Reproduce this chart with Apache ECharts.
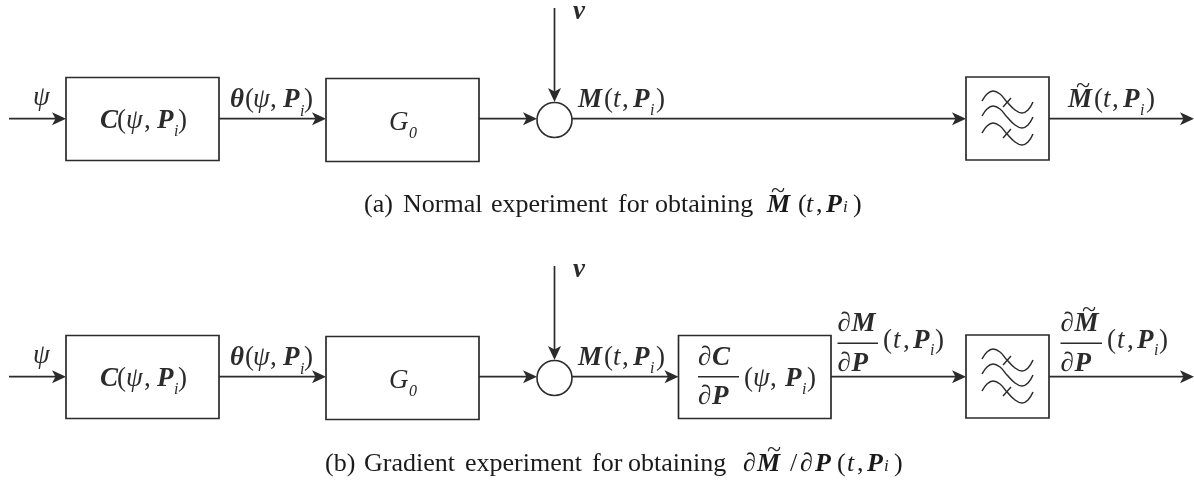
<!DOCTYPE html>
<html>
<head>
<meta charset="utf-8">
<title>Experiments</title>
<style>
html, body { margin: 0; padding: 0; background: #fff; }
#chart { width: 1194px; height: 482px; }
</style>
<script src="https://cdn.jsdelivr.net/npm/echarts@6/dist/echarts.min.js"></script>
</head>
<body>
<div id="chart"></div>
<script>
var serif = '"Liberation Serif", serif';
var ink = '#2b2b2b';

// boxes: x0, y0, x1, y1
var boxes = [
    [66, 77.5, 219, 160.5], [326, 78.5, 479, 161.5],
    [66, 335.5, 219, 418.5], [326, 336.5, 479, 419.5], [678.5, 335.5, 831, 418.5]
];
var filterBoxes = [[966, 77, 1049, 160], [966, 335, 1049, 418]];

// wires: x0, y0, x1, y1, arrow head at the end (1) or not (0)
var wires = [
    [9, 118.7, 66, 118.7, 1], [219, 118.7, 326, 118.7, 1], [479, 118.7, 537, 118.7, 1],
    [554.5, 8, 554.5, 102, 1], [572, 118.7, 966, 118.7, 1], [1049, 118.7, 1194, 118.7, 1],
    [9, 376.7, 66, 376.7, 1], [219, 376.7, 326, 376.7, 1], [479, 376.7, 537, 376.7, 1],
    [554.5, 266, 554.5, 360, 1], [572, 376.7, 678.5, 376.7, 1], [831, 376.7, 966, 376.7, 1],
    [1049, 376.7, 1194, 376.7, 1]
];
var junctions = [[554.5, 120, 17.5], [554.5, 378, 17.5]];

// fraction bars: x0, x1, y
var fractionBars = [[698, 739, 376.7], [837.5, 878, 343.3], [1060.5, 1102, 343.3]];

// filter glyph, offsets from the top left corner of its box
var waveShape = [[16, 24], [21, 17], [27, 14], [34, 17], [41, 25], [49, 33], [56, 36], [62, 33], [67, 25]];
var waveOffsets = [0, 15, 32];
var filterTicks = [[37, 30, 45, 21], [37, 61, 45, 52]];

// label groups: dx, dy from the baseline origin, text, style
var cLabel = [[0, 0, 'C', 'bi'], [17, 0, '(', 'ro'], [26, 0, 'ψ', 'it'], [44, 0, ',', 'ro'], [57, 0, 'P', 'bi'], [74, 8, 'i', 'sub'], [78, 0, ')', 'ro']];
var thetaLabel = [[0, 0, 'θ', 'bi'], [15, 0, '(', 'ro'], [23, 0, 'ψ', 'it'], [40, 0, ',', 'ro'], [53, 0, 'P', 'bi'], [70, 9, 'i', 'sub'], [74, 0, ')', 'ro']];
var mLabel = [[0, 0, 'M', 'bi'], [26, 0, '(', 'ro'], [35, 0, 't', 'it'], [44, 0, ',', 'ro'], [55, 0, 'P', 'bi'], [72, 8, 'i', 'sub'], [78, 0, ')', 'ro']];
var tpLabel = [[0, 0, '(', 'ro'], [10, 0, 't', 'it'], [20, 0, ',', 'ro'], [30, 0, 'P', 'bi'], [47, 7, 'i', 'sub'], [52, 0, ')', 'ro']];
var psiLabel = [[0, 0, 'ψ', 'it']];
var vLabel = [[0, 0, 'v', 'bi']];
var g0Label = [[0, 0, 'G', 'it'], [20, 8, '0', 'sub']];
var tildeMark = [[0, 0, '~', 'til']];
var dcLabel = [[0, 0, '∂', 'ro'], [14, 0, 'C', 'bi'], [0, 39, '∂', 'ro'], [14, 39, 'P', 'bi'], [46, 21, '(', 'ro'], [55, 21, 'ψ', 'it'], [72, 21, ',', 'ro'], [87, 21, 'P', 'bi'], [104, 29, 'i', 'sub'], [109, 21, ')', 'ro']];
var dmLabel = [[0, 0, '∂', 'ro'], [14, 0, 'M', 'bi'], [0, 40, '∂', 'ro'], [14, 40, 'P', 'bi']];

var captionA = [
    [364, '(a)', 'cap'], [403, 'Normal', 'cap'], [491, 'experiment', 'cap'], [618, 'for', 'cap'], [655, 'obtaining', 'cap'],
    [767, 'M', 'capbi'], [798, '(', 'cap'], [806, 't', 'capit'], [816, ',', 'cap'], [826, 'P', 'capbi'], [843, 'i', 'capsub'], [853, ')', 'cap']
];
var captionB = [
    [325, '(b)', 'cap'], [364, 'Gradient', 'cap'], [465, 'experiment', 'cap'], [592, 'for', 'cap'], [628, 'obtaining', 'cap'],
    [743, '∂', 'cap'], [757, 'M', 'capbi'], [790, '/', 'cap'], [800, '∂', 'cap'], [815, 'P', 'capbi'], [837, '(', 'cap'], [847, 't', 'capit'], [857, ',', 'cap'], [867, 'P', 'capbi'], [884, 'i', 'capsub'], [894, ')', 'cap']
];

// where each group goes: group, x, baseline y
var placements = [
    [psiLabel, 33, 105], [cLabel, 100, 128], [thetaLabel, 230, 107], [g0Label, 389, 130], [vLabel, 573, 19],
    [mLabel, 578, 107], [tildeMark, 1076, 92.5], [mLabel, 1068, 107],
    [psiLabel, 33, 363], [cLabel, 100, 386], [thetaLabel, 230, 365], [g0Label, 389, 388], [vLabel, 573, 277],
    [mLabel, 578, 365], [dcLabel, 698, 365], [dmLabel, 837.5, 331], [tpLabel, 883, 348],
    [dmLabel, 1060.5, 331], [tildeMark, 1082, 316.5], [tpLabel, 1107, 348]
];
var fonts = {
    bi: 'italic bold 27px ' + serif,
    it: 'italic 27px ' + serif,
    ro: '27px ' + serif,
    sub: 'italic 16px ' + serif,
    til: '26px ' + serif,
    cap: '26px ' + serif,
    capbi: 'italic bold 26px ' + serif,
    capit: 'italic 26px ' + serif,
    capsub: 'italic 17px ' + serif
};

var labels = [];
placements.forEach(function (p) {
    p[0].forEach(function (f) {
        labels.push([p[1] + f[0], p[2] + f[1], f[2], f[3]]);
    });
});
captionA.forEach(function (w) { labels.push([w[0], 212, w[1], w[2]]); });
captionB.forEach(function (w) { labels.push([w[0], 471, w[1], w[2]]); });
labels.push([771, 197.5, '~', 'til'], [767, 456.5, '~', 'til']);

function lineStyle(width) {
    return { stroke: ink, lineWidth: width, fill: null };
}

function renderBox(params, api) {
    var a = api.coord([api.value(0), api.value(1)]);
    var b = api.coord([api.value(2), api.value(3)]);
    return {
        type: 'rect',
        shape: { x: a[0], y: a[1], width: b[0] - a[0], height: b[1] - a[1] },
        style: lineStyle(1.7)
    };
}

function renderWire(params, api) {
    var a = api.coord([api.value(0), api.value(1)]);
    var b = api.coord([api.value(2), api.value(3)]);
    var dx = b[0] - a[0], dy = b[1] - a[1];
    var len = Math.sqrt(dx * dx + dy * dy);
    var ux = dx / len, uy = dy / len;
    function at(back, side) {
        return [b[0] - ux * back - uy * side, b[1] - uy * back + ux * side];
    }
    return {
        type: 'group',
        children: [{
            type: 'line',
            shape: { x1: a[0], y1: a[1], x2: at(6, 0)[0], y2: at(6, 0)[1] },
            style: lineStyle(1.7)
        }, {
            type: 'polygon',
            shape: { points: [at(0, 0), at(14, 6.5), at(10.5, 0), at(14, -6.5)] },
            style: { fill: ink }
        }]
    };
}

function renderJunction(params, api) {
    var c = api.coord([api.value(0), api.value(1)]);
    return {
        type: 'circle',
        shape: { cx: c[0], cy: c[1], r: api.value(2) },
        style: { stroke: ink, lineWidth: 1.6, fill: '#fff' }
    };
}

function renderBar(params, api) {
    var a = api.coord([api.value(0), api.value(2)]);
    var b = api.coord([api.value(1), api.value(2)]);
    return { type: 'line', shape: { x1: a[0], y1: a[1], x2: b[0], y2: b[1] }, style: lineStyle(1.4) };
}

function renderFilter(params, api) {
    var x = api.value(0), y = api.value(1);
    var children = [];
    waveOffsets.forEach(function (off) {
        children.push({
            type: 'polyline',
            shape: {
                points: waveShape.map(function (p) { return api.coord([x + p[0], y + p[1] + off]); }),
                smooth: 0.4
            },
            style: lineStyle(1.5)
        });
    });
    filterTicks.forEach(function (t) {
        var a = api.coord([x + t[0], y + t[1]]);
        var b = api.coord([x + t[2], y + t[3]]);
        children.push({ type: 'line', shape: { x1: a[0], y1: a[1], x2: b[0], y2: b[1] }, style: lineStyle(1.4) });
    });
    return { type: 'group', children: children };
}

function renderLabel(params, api) {
    var item = labels[params.dataIndex];
    var c = api.coord([item[0], item[1]]);
    var size = parseInt(fonts[item[3]].match(/(\d+)px/)[1], 10);
    return {
        type: 'text',
        style: {
            x: c[0],
            y: c[1] - size * 0.25,
            text: item[2],
            font: fonts[item[3]],
            fill: item[3].indexOf('cap') === 0 ? '#1a1a1a' : ink,
            align: 'left',
            verticalAlign: 'middle'
        }
    };
}

function customSeries(name, data, render) {
    return { name: name, type: 'custom', coordinateSystem: 'cartesian2d', clip: false, silent: true, renderItem: render, data: data, animation: false };
}

var myChart = echarts.init(document.getElementById('chart'), null, { renderer: 'canvas' });
myChart.setOption({
    animation: false,
    backgroundColor: '#fff',
    grid: { left: 0, right: 0, top: 0, bottom: 0 },
    xAxis: { type: 'value', min: 0, max: 1194, show: false },
    yAxis: { type: 'value', min: 0, max: 482, inverse: true, show: false },
    series: [
        customSeries('wires', wires, renderWire),
        customSeries('boxes', boxes, renderBox),
        customSeries('filter boxes', filterBoxes, renderBox),
        customSeries('filters', filterBoxes, renderFilter),
        customSeries('junctions', junctions, renderJunction),
        customSeries('fraction bars', fractionBars, renderBar),
        customSeries('labels', labels.map(function (l) { return [l[0], l[1]]; }), renderLabel)
    ]
});
</script>
</body>
</html>
